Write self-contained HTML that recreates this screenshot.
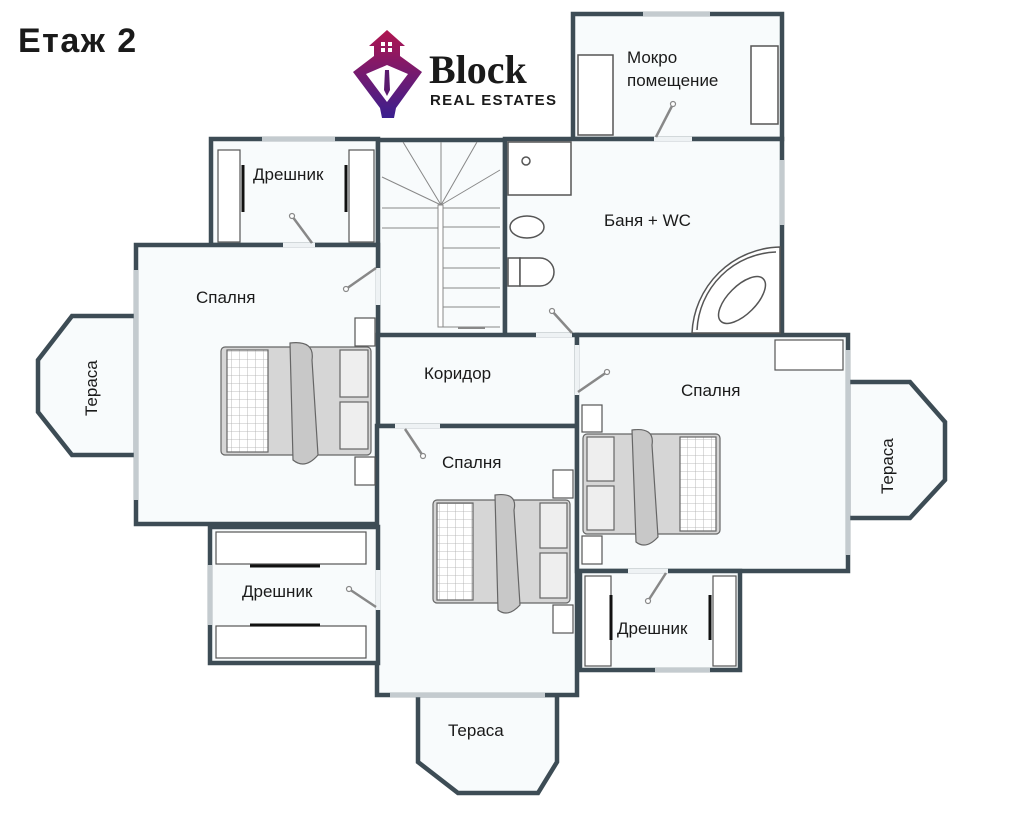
<!DOCTYPE html>
<html><head><meta charset="utf-8"><style>
body{margin:0;background:#fff;width:1024px;height:839px;overflow:hidden}
svg{display:block}
text{font-family:"Liberation Sans",sans-serif;fill:#1a1a1a}
</style></head><body>
<svg width="1024" height="839" viewBox="0 0 1024 839" xmlns="http://www.w3.org/2000/svg">
<defs>
<pattern id="grid" width="8" height="8" patternUnits="userSpaceOnUse"><rect width="8" height="8" fill="#fff"/><path d="M8 0V8M0 8H8" stroke="#aaa" stroke-width="0.8"/></pattern>
<linearGradient id="lg" x1="0" y1="0" x2="0" y2="1"><stop offset="0" stop-color="#b0154f"/><stop offset="1" stop-color="#3a1f8f"/></linearGradient>
</defs>
<text x="18" y="52" font-size="34" font-weight="bold" fill="#000" letter-spacing="1.5">Етаж 2</text>
<!-- logo -->
<g>
<path d="M387 30 L369 46 L374 46 L374 56 L353 72 L380 108 L382 118 L394 118 L396 108 L422 72 L400 56 L400 46 L405 46 Z" fill="url(#lg)"/>
<path d="M366 74 L387 65 L408 74 L387 102 Z" fill="#fff"/>
<path d="M385 70 L389 70 L390 90 L387 96 L384 90 Z" fill="#5a1a6e"/>
<rect x="381" y="42" width="4" height="4" fill="#fff"/><rect x="388" y="42" width="4" height="4" fill="#fff"/><rect x="381" y="48" width="4" height="4" fill="#fff"/><rect x="388" y="48" width="4" height="4" fill="#fff"/>
<text x="429" y="83" font-size="40" font-weight="bold" fill="#1c1a6b" style="font-family:'Liberation Serif',serif">Block</text>
<text x="430" y="105" font-size="15" font-weight="bold" fill="#1c1a6b" letter-spacing="1.3">REAL ESTATES</text>
</g>
<g fill="#f8fbfc" stroke="#3d4c55" stroke-width="4.5" stroke-linejoin="miter">
<rect x="573" y="14" width="209" height="125"/>
<rect x="211" y="139" width="167" height="106"/>
<rect x="378" y="140" width="127" height="196"/>
<rect x="505" y="139" width="277" height="196"/>
<polygon points="136,316 72,316 38,360 38,412 72,455 136,455"/>
<rect x="136" y="245" width="242" height="279"/>
<rect x="378" y="335" width="199" height="91"/>
<polygon points="418,695 418,762 458,793 538,793 557,762 557,695"/>
<rect x="377" y="426" width="200" height="269"/>
<rect x="210" y="527" width="168" height="136"/>
<polygon points="848,382 910,382 945,422 945,480 910,518 848,518"/>
<rect x="577" y="335" width="271" height="236"/>
<rect x="580" y="571" width="160" height="99"/>
</g>
<!-- windows / openings -->
<g stroke="#c4cbcf" stroke-width="4.5">
<line x1="643" y1="14" x2="710" y2="14"/>
<line x1="262" y1="139" x2="335" y2="139"/>
<line x1="136" y1="270" x2="136" y2="500"/>
<line x1="848" y1="350" x2="848" y2="555"/>
<line x1="782" y1="160" x2="782" y2="225"/>
<line x1="210" y1="565" x2="210" y2="625"/>
<line x1="390" y1="695" x2="545" y2="695"/>
<line x1="655" y1="670" x2="710" y2="670"/>
</g>
<g stroke="#eef2f4" stroke-width="4.5">
<line x1="283" y1="245" x2="315" y2="245"/>
<line x1="378" y1="268" x2="378" y2="305"/>
<line x1="654" y1="139" x2="692" y2="139"/>
<line x1="536" y1="335" x2="572" y2="335"/>
<line x1="577" y1="345" x2="577" y2="395"/>
<line x1="395" y1="426" x2="440" y2="426"/>
<line x1="378" y1="570" x2="378" y2="610"/>
<line x1="628" y1="571" x2="668" y2="571"/>
</g>
<!-- door swings -->
<g stroke="#888" stroke-width="2.5" fill="#fff">
<line x1="292" y1="216" x2="312" y2="243"/><line x1="346" y1="289" x2="376" y2="268"/>
<line x1="673" y1="104" x2="656" y2="137"/><line x1="552" y1="311" x2="572" y2="333"/>
<line x1="578" y1="392" x2="607" y2="372"/><line x1="405" y1="429" x2="423" y2="456"/>
<line x1="349" y1="589" x2="376" y2="607"/><line x1="666" y1="573" x2="648" y2="601"/>
<g stroke-width="1.2"><circle cx="292" cy="216" r="2.5"/><circle cx="346" cy="289" r="2.5"/><circle cx="673" cy="104" r="2.5"/><circle cx="552" cy="311" r="2.5"/><circle cx="607" cy="372" r="2.5"/><circle cx="423" cy="456" r="2.5"/><circle cx="349" cy="589" r="2.5"/><circle cx="648" cy="601" r="2.5"/></g>
</g>
<!-- stairs -->
<g stroke="#888" stroke-width="1" fill="none">
<path d="M441 205 L403 142 M441 205 L441 142 M441 205 L477 142 M441 205 L382 177 M441 205 L500 170"/>
<path d="M382 208 H500 M382 228 H441 M441 227H500 M441 248H500 M441 268H500 M441 288H500 M441 307H500 M441 327H500"/>
<rect x="438" y="205" width="5" height="122" fill="#fff"/>
<line x1="458" y1="328" x2="485" y2="328" stroke-width="2"/>
</g>
<!-- bathroom fixtures -->
<g stroke="#555" stroke-width="1.5" fill="#fff">
<rect x="508" y="142" width="63" height="53"/>
<circle cx="526" cy="161" r="4"/>
<ellipse cx="527" cy="227" rx="17" ry="11"/>
<rect x="508" y="258" width="12" height="28"/><path d="M520 258 H540 A14 14 0 0 1 540 286 H520 Z"/>
<path d="M780 247 A90 90 0 0 0 692 333 L780 333 Z"/>
<path d="M776 252 A82 82 0 0 0 697 330" fill="none"/>
<ellipse cx="742" cy="300" rx="30" ry="14" transform="rotate(-45 742 300)" fill="none"/>
<rect x="578" y="55" width="35" height="80"/><rect x="751" y="46" width="27" height="78"/>
</g>
<!-- wardrobe furniture -->
<g stroke="#555" stroke-width="1.2" fill="#fff">
<rect x="218" y="150" width="22" height="92"/><rect x="349" y="150" width="25" height="92"/>
<rect x="216" y="532" width="150" height="32"/><rect x="216" y="626" width="150" height="32"/>
<rect x="585" y="576" width="26" height="90"/><rect x="713" y="576" width="23" height="90"/>
<rect x="775" y="340" width="68" height="30"/>
<rect x="355" y="318" width="20" height="28"/><rect x="355" y="457" width="20" height="28"/>
<rect x="553" y="470" width="20" height="28"/><rect x="553" y="605" width="20" height="28"/>
<rect x="582" y="405" width="20" height="27"/><rect x="582" y="536" width="20" height="28"/>
</g>
<g stroke="#111" stroke-width="3">
<line x1="243" y1="165" x2="243" y2="212"/><line x1="346" y1="165" x2="346" y2="212"/>
<line x1="250" y1="566" x2="320" y2="566"/><line x1="250" y1="625" x2="320" y2="625"/>
<line x1="611" y1="595" x2="611" y2="640"/><line x1="710" y1="595" x2="710" y2="640"/>
</g>
<!-- beds -->
<g stroke="#666" stroke-width="1.2">
<rect x="221" y="347" width="150" height="108" rx="4" fill="#d6d6d6"/>
<rect x="227" y="350" width="41" height="102" fill="url(#grid)"/>
<rect x="340" y="350" width="28" height="47" fill="#eee"/><rect x="340" y="402" width="28" height="47" fill="#eee"/>
<path d="M290 343 Q315 340 312 360 L318 455 Q305 470 293 460 Z" fill="#c8c8c8"/>
<rect x="433" y="500" width="137" height="103" rx="4" fill="#d6d6d6"/>
<rect x="437" y="503" width="36" height="97" fill="url(#grid)"/>
<rect x="540" y="503" width="27" height="45" fill="#eee"/><rect x="540" y="553" width="27" height="45" fill="#eee"/>
<path d="M495 495 Q518 492 514 510 L520 605 Q508 618 498 610 Z" fill="#c8c8c8"/>
<rect x="583" y="434" width="137" height="100" rx="4" fill="#d6d6d6"/>
<rect x="680" y="437" width="36" height="94" fill="url(#grid)"/>
<rect x="587" y="437" width="27" height="44" fill="#eee"/><rect x="587" y="486" width="27" height="44" fill="#eee"/>
<path d="M632 430 Q655 427 652 445 L658 537 Q646 550 636 542 Z" fill="#c8c8c8"/>
</g>
<!-- labels -->
<g font-size="17">
<text x="627" y="63">Мокро</text><text x="627" y="86">помещение</text>
<text x="253" y="180">Дрешник</text>
<text x="604" y="226">Баня + WC</text>
<text x="196" y="303">Спалня</text>
<text x="424" y="379">Коридор</text>
<text x="681" y="396">Спалня</text>
<text x="442" y="468">Спалня</text>
<text x="242" y="597">Дрешник</text>
<text x="617" y="634">Дрешник</text>
<text x="448" y="736">Тераса</text>
<text transform="translate(97,416) rotate(-90)">Тераса</text>
<text transform="translate(893,494) rotate(-90)">Тераса</text>
</g>
</svg>
</body></html>
